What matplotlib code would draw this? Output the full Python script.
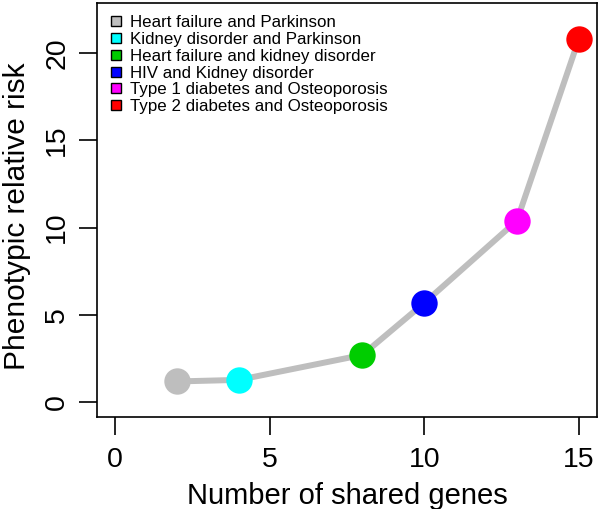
import matplotlib.pyplot as plt

# dados
pares = ["Heart failure and Parkinson",
         "Kidney disorder and Parkinson",
         "Heart failure and kidney disorder",
         "HIV and Kidney disorder",
         "Type 1 diabetes and Osteoporosis",
         "Type 2 diabetes and Osteoporosis"]
genes = [2, 4, 8, 10, 13, 15]
risco = [1.18, 1.27, 2.70, 5.68, 10.4, 20.8]
cores = ["#BEBEBE", "#00FFFF", "#00CD00", "#0000FF", "#FF00FF", "#FF0000"]

plt.rcParams['font.family'] = ['Liberation Sans', 'DejaVu Sans']

fig = plt.figure(figsize=(6.0, 5.09), dpi=100)
ax = fig.add_axes([0.161, 0.18, 0.8345, 0.814])

ax.plot(genes, risco, color="#BEBEBE", linewidth=4.3, zorder=1)
for g, r, c in zip(genes, risco, cores):
    ax.plot(g, r, 'o', color=c, markersize=19, markeredgewidth=0, zorder=2)

# legenda sem moldura, quadradinhos com borda preta
handles = [plt.Line2D([], [], marker='s', linestyle='none', markersize=7,
                      markerfacecolor=c, markeredgecolor='black', markeredgewidth=1.0)
           for c in cores]
ax.legend(handles, pares, loc='upper left', frameon=False, fontsize=12.2,
          handletextpad=0.35, labelspacing=0.11, borderaxespad=0.3,
          handlelength=0.9, bbox_to_anchor=(0.0, 1.0))

ax.set_xlim(-0.6, 15.6)
ax.set_ylim(-0.88, 22.88)
ax.set_xticks([0, 5, 10, 15])
ax.set_yticks([0, 5, 10, 15, 20])
ax.tick_params(axis='both', length=13, width=1.2, labelsize=20.5, direction='out')
ax.tick_params(axis='x', pad=8)
ax.tick_params(axis='y', pad=6)
for lab in ax.get_yticklabels():
    lab.set_rotation(90)
    lab.set_verticalalignment('center')

for s in ax.spines.values():
    s.set_linewidth(1.2)

ax.set_xlabel("Number of shared genes", fontsize=21, labelpad=7)
ax.set_ylabel("Phenotypic relative risk", fontsize=21.5)
ax.yaxis.set_label_coords(-0.131, 0.486)

fig.savefig("out.png", dpi=100)
